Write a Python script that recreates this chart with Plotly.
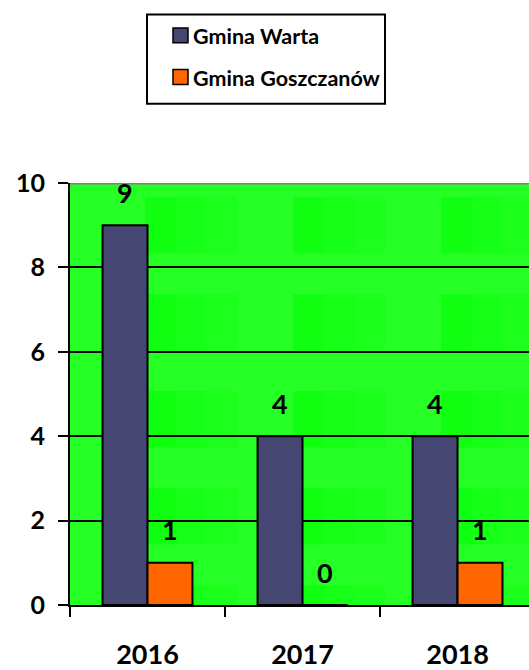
import plotly.graph_objects as go

# ---- data ----
categories = ["2016", "2017", "2018"]
series_names = ["Gmina Warta", "Gmina Goszczanów"]
warta = [9, 4, 4]
goszczanow = [1, 0, 1]
y_ticks = [0, 2, 4, 6, 8, 10]

# ---- style ----
W, H = 529, 670
PLOT_L, PLOT_T, PLOT_B = 70, 183, 609  # pixel coords
L, R, T, B = PLOT_L, 0, PLOT_T, H - PLOT_B
NAVY = "#464673"
ORANGE = "#FF6600"
GREEN = "#26FF26"
FONT = "Lato"
X_MAX = 2.461

px_per_x = (W - PLOT_L) / (X_MAX + 0.5)
px_per_y = (PLOT_B - PLOT_T) / 10.0


def dx(px):
    return -0.5 + (px - PLOT_L) / px_per_x


def dy(py):
    return (PLOT_B - py) / px_per_y


def pxp(px):
    return (px - PLOT_L) / (W - PLOT_L)


def pyp(py):
    return (PLOT_B - py) / (PLOT_B - PLOT_T)


fig = go.Figure()
fig.add_trace(go.Bar(x=categories, y=warta, name=series_names[0],
                     marker=dict(color=NAVY, line=dict(color="black", width=2))))
fig.add_trace(go.Bar(x=categories, y=goszczanow, name=series_names[1],
                     marker=dict(color=ORANGE, line=dict(color="black", width=2))))

shapes = []
# background texture tiles (subtle darker green patches)
tile_cols = [145, 293, 441]
tile_rows = [197, 295, 393, 491, 589]
shades = ["#10FF10", "#16FF16", "#1CFF1C"]
for x0 in tile_cols:
    for y0 in tile_rows:
        w = 92 / len(shades)
        for k, c in enumerate(shades):
            xa = x0 + k * w
            xb = min(x0 + (k + 1) * w, W)
            if xa >= W:
                continue
            shapes.append(dict(type="rect", xref="x", yref="y",
                               x0=dx(xa), x1=dx(xb), y0=dy(y0), y1=dy(min(y0 + 57, PLOT_B)),
                               fillcolor=c, line=dict(width=0), layer="below"))
# gray top border
shapes.append(dict(type="line", xref="x", yref="y", x0=-0.5, x1=X_MAX, y0=10, y1=10,
                   line=dict(color="#808080", width=3), layer="above"))

# manual legend
shapes.append(dict(type="rect", xref="paper", yref="paper",
                   x0=pxp(147), x1=pxp(385), y0=pyp(13), y1=pyp(103),
                   line=dict(color="black", width=2), fillcolor="white", layer="above"))
annotations = []
legend_rows = [(34, NAVY), (76, ORANGE)]
for name, (cy, col) in zip(series_names, legend_rows):
    shapes.append(dict(type="rect", xref="paper", yref="paper",
                       x0=pxp(173), x1=pxp(188), y0=pyp(cy - 7.5), y1=pyp(cy + 7.5),
                       fillcolor=col, line=dict(color="black", width=1.5), layer="above"))
    annotations.append(dict(x=pxp(191), y=pyp(cy + 1), xref="paper", yref="paper",
                            xanchor="left", yanchor="middle", text=name, showarrow=False,
                            font=dict(family=FONT, size=21.5, color="black", weight="bold")))

# data labels
for vals, shift in ((warta, -22.5), (goszczanow, 22.5)):
    for i, v in enumerate(vals):
        annotations.append(dict(x=i, y=v, xref="x", yref="y", text=str(v), showarrow=False,
                                xshift=shift, yshift=33, xanchor="center", yanchor="middle",
                                font=dict(family=FONT, size=27, color="black", weight="bold")))

fig.update_layout(
    width=W, height=H,
    margin=dict(l=L, r=R, t=T, b=B, pad=0),
    paper_bgcolor="white", plot_bgcolor=GREEN,
    barmode="group", bargap=0.42, bargroupgap=0,
    showlegend=False,
    shapes=shapes, annotations=annotations,
)
fig.update_xaxes(type="category", range=[-0.5, X_MAX], tickson="boundaries",
                 ticks="outside", ticklen=10, tickwidth=2, tickcolor="black",
                 showline=True, linecolor="black", linewidth=2, showgrid=False,
                 ticklabelstandoff=25,
                 tickfont=dict(family=FONT, size=27, color="black", weight="bold"))
fig.update_yaxes(range=[0, 10], tickvals=y_ticks, ticktext=[str(t) for t in y_ticks],
                 ticks="outside", ticklen=10, tickwidth=2, tickcolor="black",
                 showline=True, linecolor="black", linewidth=2,
                 showgrid=True, gridcolor="black", gridwidth=2, zeroline=False,
                 ticklabelstandoff=8,
                 tickfont=dict(family=FONT, size=25, color="black", weight="bold"))

fig.write_html(
    "out.html",
    config={"displayModeBar": False},
    post_script=("document.documentElement.style.margin='0';"
                 "document.body.style.margin='0';"
                 "document.body.style.padding='0';"
                 "document.documentElement.style.overflow='hidden';"
                 "document.body.style.overflow='hidden';"),
)
